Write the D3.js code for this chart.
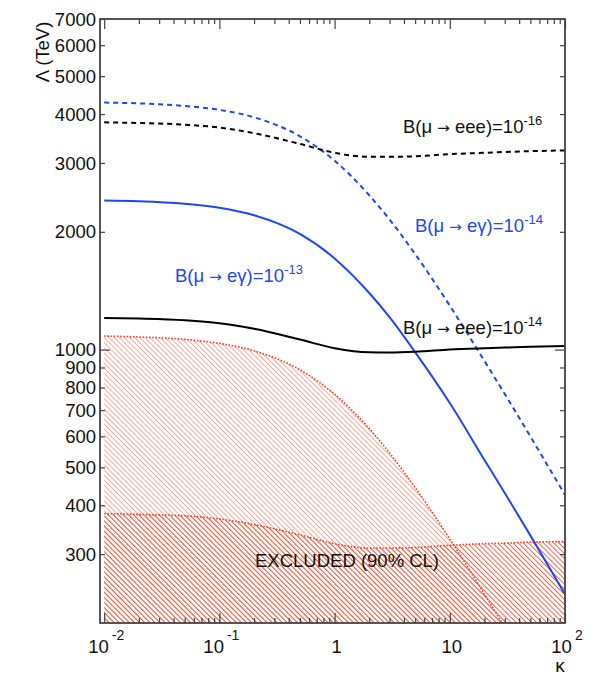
<!DOCTYPE html>
<html>
<head>
<meta charset="utf-8">
<script src="https://cdn.jsdelivr.net/npm/d3@7"></script>
<style>
  body { margin: 0; background: #fff; }
  svg { font-family: "Liberation Sans", Arial, Helvetica, sans-serif; }
</style>
</head>
<body>
<div class="d3Chart"></div>
<script>
// kappa grid and Lambda (TeV)
var kappa = [0.01, 0.02, 0.05, 0.1, 0.2, 0.5, 1, 2, 3, 5, 10, 20, 30, 50, 100];
var megBr13 = [2405, 2395, 2360, 2305, 2205, 1975, 1710, 1395, 1210, 985, 730, 522, 430, 335, 237];
var megBr14 = [4280, 4260, 4195, 4100, 3925, 3510, 3040, 2480, 2150, 1755, 1295, 935, 770, 600, 425];
var eeeBr14 = [1205, 1200, 1188, 1168, 1130, 1061, 1008, 984, 983, 987, 1000, 1008, 1012, 1017, 1022];
var eeeBr16 = [3810, 3795, 3757, 3695, 3575, 3355, 3185, 3110, 3110, 3120, 3160, 3185, 3200, 3215, 3230];
// excluded regions (90% CL), upper edges
var excludedMeg = [1083, 1077, 1062, 1037, 993, 888, 769, 628, 544, 444, 328, 237, 195, null, null];
var excludedEee = [381, 379, 376, 369, 357, 336, 319, 311, 311, 312, 316, 319, 320, 322, 323];

// ticks
var yTicks = [300, 400, 500, 600, 700, 800, 900, 1000, 2000, 3000, 4000, 5000, 6000, 7000];
var yMajor = [1000];
var xMajor = [0.01, 0.1, 1, 10, 100];
var xLabels = [["10", "-2"], ["10", "-1"], ["1", ""], ["10", ""], ["10", "2"]];
var xMinor = [0.02, 0.03, 0.04, 0.05, 0.06, 0.07, 0.08, 0.09,
              0.2, 0.3, 0.4, 0.5, 0.6, 0.7, 0.8, 0.9,
              2, 3, 4, 5, 6, 7, 8, 9,
              20, 30, 40, 50, 60, 70, 80, 90];

var width = 598;
var height = 690;
// plot box
var pL = 100, pR = 565, pT = 19, pB = 623;
var blue = "#2146f7";
var red = "#ff3b1f";

var svg = d3
  .select(".d3Chart")
  .append("svg")
  .attr("width", width)
  .attr("height", height)
  .style("background-color", "#fff");

var x = d3.scaleLog().domain([0.0092, 100]).range([pL, pR]);
var y = d3.scaleLog().domain([200, 7000]).range([pB, pT]);

var defs = svg.append("defs");
defs.append("clipPath").attr("id", "plotClip")
  .append("rect")
  .attr("x", pL).attr("y", pT)
  .attr("width", pR - pL).attr("height", pB - pT);

// hatch patterns "\\"
function hatch(id, color, sw) {
  var p = defs.append("pattern")
    .attr("id", id)
    .attr("patternUnits", "userSpaceOnUse")
    .attr("width", 3.6)
    .attr("height", 3.6)
    .attr("patternTransform", "rotate(-45)");
  p.append("line")
    .attr("x1", 0.5).attr("y1", 0)
    .attr("x2", 0.5).attr("y2", 3.6)
    .attr("stroke", color)
    .attr("stroke-width", sw);
}
hatch("hatchMeg", "#f6a294", 0.9);
hatch("hatchEee", "#f0583a", 0.9);

function pts(vals) {
  return kappa.map(function (k, i) { return [k, vals[i]]; });
}

var line = d3.line()
  .defined(function (d) { return d[1] != null; })
  .x(function (d) { return x(d[0]); })
  .y(function (d) { return y(d[1]); })
  .curve(d3.curveMonotoneX);

var area = d3.area()
  .defined(function (d) { return d[1] != null; })
  .x(function (d) { return x(d[0]); })
  .y0(y(200))
  .y1(function (d) { return y(d[1]); })
  .curve(d3.curveMonotoneX);

var plot = svg.append("g").attr("clip-path", "url(#plotClip)");

// excluded regions
plot.append("path").attr("d", area(pts(excludedMeg))).attr("fill", "url(#hatchMeg)");
plot.append("path").attr("d", area(pts(excludedEee))).attr("fill", "url(#hatchEee)");

[excludedMeg, excludedEee].forEach(function (s) {
  plot.append("path")
    .attr("d", line(pts(s)))
    .attr("fill", "none")
    .attr("stroke", red)
    .attr("stroke-width", 1.6)
    .attr("stroke-dasharray", "1.6,1.6");
});

// curves
var curves = [
  { vals: megBr14, color: blue, dash: "5,4" },
  { vals: eeeBr16, color: "#000", dash: "5,4" },
  { vals: megBr13, color: blue, dash: null },
  { vals: eeeBr14, color: "#000", dash: null },
];
curves.forEach(function (c) {
  plot.append("path")
    .attr("d", line(pts(c.vals)))
    .attr("fill", "none")
    .attr("stroke", c.color)
    .attr("stroke-width", 2)
    .attr("stroke-dasharray", c.dash);
});

// axes: ticks point inward on all four sides
var axisColor = "#444";
function styleAxis(g) {
  g.select(".domain").remove();
  g.selectAll(".tick line").attr("stroke", axisColor).attr("stroke-width", 1.2);
  g.selectAll("text").remove();
}
svg.append("g").attr("transform", "translate(0," + pB + ")")
  .call(d3.axisBottom(x).tickValues(xMajor).tickSize(-10)).call(styleAxis);
svg.append("g").attr("transform", "translate(0," + pB + ")")
  .call(d3.axisBottom(x).tickValues(xMinor).tickSize(-5)).call(styleAxis);
svg.append("g").attr("transform", "translate(0," + pT + ")")
  .call(d3.axisTop(x).tickValues(xMajor).tickSize(-10)).call(styleAxis);
svg.append("g").attr("transform", "translate(0," + pT + ")")
  .call(d3.axisTop(x).tickValues(xMinor).tickSize(-5)).call(styleAxis);

var yMinor = yTicks.filter(function (v) { return yMajor.indexOf(v) < 0; });
svg.append("g").attr("transform", "translate(" + pL + ",0)")
  .call(d3.axisLeft(y).tickValues(yMajor).tickSize(-10)).call(styleAxis);
svg.append("g").attr("transform", "translate(" + pL + ",0)")
  .call(d3.axisLeft(y).tickValues(yMinor).tickSize(-5)).call(styleAxis);
svg.append("g").attr("transform", "translate(" + pR + ",0)")
  .call(d3.axisRight(y).tickValues(yMajor).tickSize(-10)).call(styleAxis);
svg.append("g").attr("transform", "translate(" + pR + ",0)")
  .call(d3.axisRight(y).tickValues(yMinor).tickSize(-5)).call(styleAxis);

// frame
svg.append("rect")
  .attr("x", pL).attr("y", pT)
  .attr("width", pR - pL).attr("height", pB - pT)
  .attr("fill", "none")
  .attr("stroke", axisColor)
  .attr("stroke-width", 1.8);

// y tick labels
svg.append("g")
  .selectAll("text")
  .data(yTicks)
  .enter()
  .append("text")
  .attr("x", pL - 4)
  .attr("y", function (d) { return y(d); })
  .attr("dy", "0.36em")
  .attr("text-anchor", "end")
  .attr("font-size", 18.5)
  .attr("fill", "#111")
  .text(function (d) { return d; });

// x tick labels with exponents
var xl = svg.append("g")
  .selectAll("text")
  .data(xMajor)
  .enter()
  .append("text")
  .attr("x", function (d) { return x(d) + 2; })
  .attr("y", 653)
  .attr("text-anchor", "middle")
  .attr("font-size", 18.5)
  .attr("fill", "#111");
xl.append("tspan").text(function (d, i) { return xLabels[i][0]; });
xl.append("tspan")
  .attr("dy", -13)
  .attr("dx", 3)
  .attr("font-size", 14)
  .text(function (d, i) { return xLabels[i][1]; });

// axis titles
svg.append("text")
  .attr("x", 560).attr("y", 672)
  .attr("text-anchor", "middle")
  .attr("font-size", 19)
  .attr("fill", "#111")
  .text("κ");
svg.append("text")
  .attr("transform", "translate(43,52) rotate(-90)")
  .attr("dy", "0.35em")
  .attr("text-anchor", "middle")
  .attr("font-size", 18.5)
  .attr("fill", "#111")
  .text("Λ (TeV)");

// curve labels (arrow from DejaVu, wider than Liberation's)
var labels = [
  { x: 403, y: 133, pre: "B(μ ", post: " eee)=10", sup: "-16", color: "#111" },
  { x: 415, y: 232, pre: "B(μ ", post: " eγ)=10", sup: "-14", color: blue },
  { x: 175, y: 282, pre: "B(μ ", post: " eγ)=10", sup: "-13", color: blue },
  { x: 403, y: 334, pre: "B(μ ", post: " eee)=10", sup: "-14", color: "#111" },
];
var lt = svg.append("g")
  .selectAll("text")
  .data(labels)
  .enter()
  .append("text")
  .attr("x", function (d) { return d.x; })
  .attr("y", function (d) { return d.y; })
  .attr("font-size", 18.5)
  .attr("fill", function (d) { return d.color; });
lt.append("tspan").text(function (d) { return d.pre; });
lt.append("tspan").attr("font-family", "DejaVu Sans").attr("font-size", 15).text("→");
lt.append("tspan").text(function (d) { return d.post; });
lt.append("tspan")
  .attr("dy", -8)
  .attr("font-size", 13)
  .text(function (d) { return d.sup; });

svg.append("text")
  .attr("x", 255).attr("y", 567)
  .attr("font-size", 18.5)
  .attr("fill", "#111")
  .text("EXCLUDED (90% CL)");
</script>
</body>
</html>
